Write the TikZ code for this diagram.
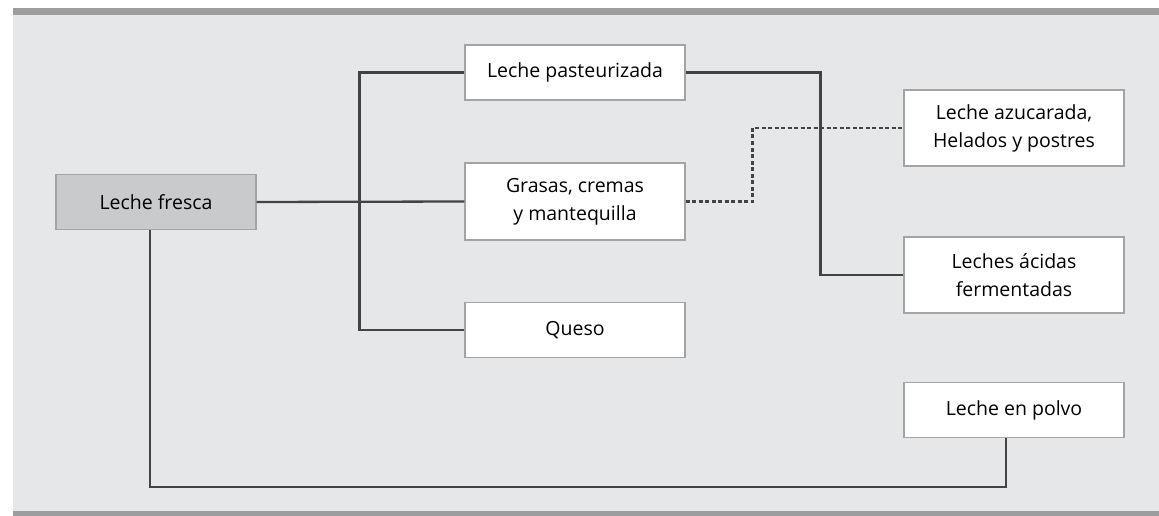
\documentclass[tikz,border=0pt]{standalone}
\usepackage{fontspec}
\setmainfont{Open Sans}
\definecolor{panel}{HTML}{E6E7E9}
\definecolor{rule}{HTML}{9C9D9F}
\definecolor{boxline}{HTML}{A3A4A6}
\definecolor{darkbox}{HTML}{C9CACC}
\definecolor{wire}{HTML}{434345}
\tikzset{
  prod/.style={draw=boxline, line width=1.2pt, fill=white, minimum width=220pt,
    minimum height=55pt, align=center, font=\fontsize{19.5}{28}\selectfont},
  origin/.style={prod, fill=darkbox, minimum width=200pt},
  wire/.style={draw=wire, line width=2.3pt},
  dotwire/.style={wire, dash pattern=on 4pt off 2.5pt}
}
\begin{document}
\begin{tikzpicture}[x=1pt,y=-1pt]
  \useasboundingbox (0,0) rectangle (1159,516);
  \fill[panel] (13,15) rectangle (1159,511);
  \fill[rule] (13,8) rectangle (1159,15);
  \fill[rule] (13,511) rectangle (1159,516);
  \draw
    (156,202) node[origin] (fresca){Leche fresca}
    (575,72.5) node[prod] (past){Leche pasteurizada}
    (575,201.5) node[prod, minimum height=77pt] (grasas){Grasas, cremas\\y mantequilla}
    (575,330) node[prod] (queso){Queso}
    (1014,128) node[prod, minimum height=76pt] (azuc){Leche azucarada,\\Helados y postres}
    (1014,275) node[prod, minimum height=76pt] (acidas){Leches ácidas\\fermentadas}
    (1014,410) node[prod] (polvo){Leche en polvo};
  \begin{scope}[wire]
    \draw (fresca.east) to (grasas.west);
    \draw (past.west) -- ++(-105,0) |- (queso.west);
    \draw (past.east) -- ++(135,0) |- (acidas.west);
    \draw ([xshift=-6pt]fresca.south) -- ++(0,257) -| ([xshift=-8pt]polvo.south);
    \draw[dotwire] (grasas.east) -- ++(67,0) |- (azuc.west);
  \end{scope}
\end{tikzpicture}
\end{document}
